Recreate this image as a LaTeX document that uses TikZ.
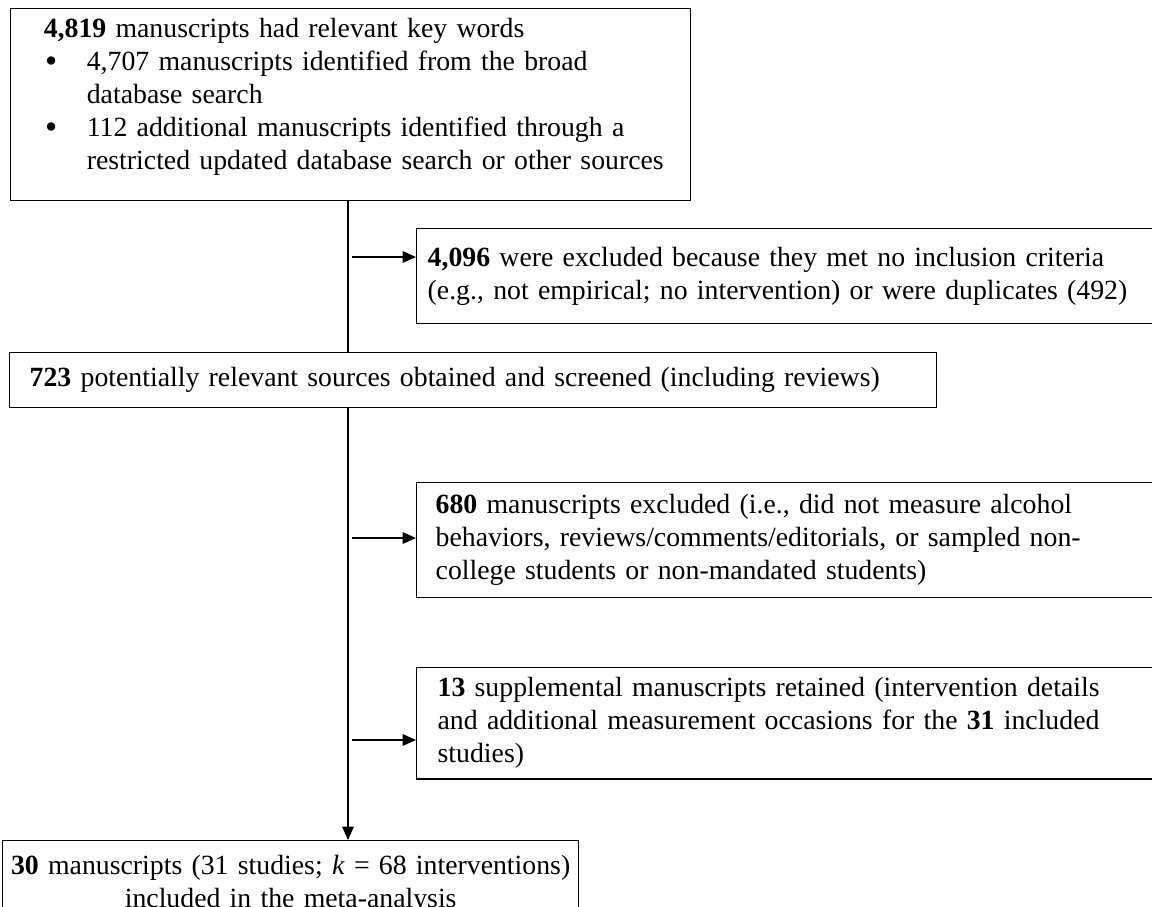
\documentclass[tikz,border=0pt]{standalone}
\usepackage{fontspec}
\setmainfont{Liberation Serif}
\usepackage{tikz}
\usetikzlibrary{arrows.meta}

\newcommand{\bulletitem}{\hspace*{0.6pt}\makebox[18pt][l]{\raisebox{-0.8pt}{\fontsize{15}{15}\selectfont\textbullet}}}

\begin{document}
\begin{tikzpicture}[
    x=0.432pt, y=-0.432pt,
    font=\fontsize{12}{14.26}\selectfont,
    block/.style={
      draw,
      line width=0.6pt,
      anchor=north west,
      align=left,
      inner sep=0pt
    },
    flow/.style={-{Triangle[length=5.8pt,width=5pt]}, line width=0.6pt}
  ]
    \useasboundingbox (0,0) rectangle (1152,906);
    \node[block, minimum width=293.8pt, minimum height=82.9pt, text width=265.2pt] (b1) at (10,8) {
      \mbox{\textbf{4,819} manuscripts had relevant key words}\\
      \mbox{\bulletitem 4,707 manuscripts identified from the broad}\\
      \mbox{\hspace*{18.6pt}database search}\\
      \mbox{\bulletitem 112 additional manuscripts identified through a}\\
      \mbox{\hspace*{18.6pt}restricted updated database search or other sources}\\[-5.3pt]
      \mbox{}
    };
    \node[block, minimum width=325.7pt, minimum height=41pt, text width=316.2pt] (b2) at (416,228) {
      \textbf{4,096} were excluded because they met no inclusion criteria\\
      (e.g., not empirical; no intervention) or were duplicates (492)
    };
    \node[block, minimum width=400.5pt, minimum height=23.8pt, text width=383.2pt] (b3) at (9,352) {
      \textbf{723} potentially relevant sources obtained and screened (including reviews)
    };
    \node[block, minimum width=325.7pt, minimum height=49.7pt, text width=309.3pt] (b4) at (416,482) {
      \textbf{680} manuscripts excluded (i.e., did not measure alcohol\\
      behaviors, reviews/comments/editorials, or sampled non-\\
      college students or non-mandated students)
    };
    \node[block, minimum width=325.7pt, minimum height=48pt, text width=307.6pt] (b5) at (416,667) {
      \textbf{13} supplemental manuscripts retained (intervention details\\
      and additional measurement occasions for the \textbf{31} included\\
      studies)
    };
    \node[block, align=center, minimum width=248.8pt, minimum height=28.1pt, text width=246pt] (b6) at (2,840) {
      \mbox{\rule{0pt}{14.5pt}\textbf{30} manuscripts (31 studies; \textit{k} = 68 interventions)}\\
      \mbox{included in the meta-analysis}
    };
    \coordinate (spine) at (348,0);
    \coordinate (e1) at (352,257);
    \coordinate (e2) at (352,538);
    \coordinate (e3) at (352,740);
    \draw[line width=0.6pt] (b1.south -| spine) -- (b3.north -| spine);
    \draw[flow] (b3.south -| spine) -- (b6.north -| spine);
    \draw[flow] (e1) -- (e1 -| b2.west);
    \draw[flow] (e2) -- (e2 -| b4.west);
    \draw[flow] (e3) -- (e3 -| b5.west);
  \end{tikzpicture}
\end{document}
